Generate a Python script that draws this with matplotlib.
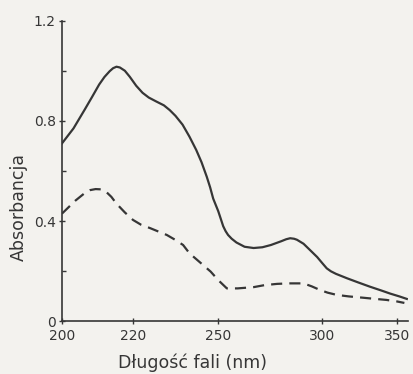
import matplotlib
matplotlib.use("Agg")
import matplotlib.pyplot as plt
import numpy as np

# Data
solid_wl = [200, 203, 206, 208, 210, 211.5, 213, 214, 215, 216, 217.5, 219, 221, 223,
            225, 227.5, 230, 232, 234, 236.5, 239, 241.5, 243.5, 245.5, 246.8, 248,
            250, 251, 252, 253, 254, 255.5, 257.5, 261, 265, 269, 273, 278, 280.5,
            282.5, 284.5, 286, 289.5, 293, 297, 300, 302.5, 305, 308, 315, 322, 330,
            338, 345, 352, 358]
solid_abs = [0.71, 0.77, 0.845, 0.895, 0.945, 0.975, 0.998, 1.01, 1.016, 1.013, 1.0,
             0.976, 0.94, 0.912, 0.893, 0.877, 0.862, 0.843, 0.82, 0.785, 0.737, 0.684,
             0.635, 0.577, 0.535, 0.49, 0.44, 0.41, 0.38, 0.36, 0.345, 0.33, 0.315,
             0.298, 0.293, 0.296, 0.305, 0.32, 0.328, 0.332, 0.33, 0.326, 0.31, 0.285,
             0.257, 0.232, 0.212, 0.2, 0.19, 0.172, 0.156, 0.139, 0.124, 0.111, 0.10,
             0.09]

dashed_wl = [200, 203.5, 206, 207.5, 209, 210.5, 212, 213.5, 215, 217.5, 220, 222.5,
             225.5, 231, 234, 236.7, 239, 243, 247, 250, 253.5, 258, 265, 270, 276,
             282, 289.5, 294, 298.5, 303, 308.5, 316, 325, 334, 342, 350, 356]
dashed_abs = [0.43, 0.482, 0.512, 0.524, 0.528, 0.527, 0.517, 0.497, 0.47, 0.435, 0.405,
              0.386, 0.372, 0.345, 0.325, 0.305, 0.272, 0.235, 0.199, 0.165, 0.132,
              0.132, 0.137, 0.145, 0.15, 0.152, 0.152, 0.14, 0.126, 0.115, 0.106, 0.10,
              0.095, 0.09, 0.086, 0.08, 0.074]

x_ticks = [200, 220, 250, 300, 350]
y_major = [0, 0.4, 0.8, 1.2]
y_major_labels = ["0", "0.4", "0.8", "1.2"]
y_minor = [0.2, 0.6, 1.0]

bg = "#f3f2ee"
ink = "#363636"

fig = plt.figure(figsize=(4.13, 3.74), dpi=100, facecolor=bg)
ax = fig.add_axes([0.150, 0.1404, 0.838, 0.8046], facecolor=bg)

def fwd(x):
    x = np.asarray(x, dtype=float)
    with np.errstate(divide="ignore", invalid="ignore"):
        return -1000.0 / x

def inv(y):
    y = np.asarray(y, dtype=float)
    with np.errstate(divide="ignore", invalid="ignore"):
        return -1000.0 / y

ax.set_xscale("function", functions=(fwd, inv))

ax.plot(solid_wl, solid_abs, color=ink, lw=1.6, solid_joinstyle="round")
ax.plot(dashed_wl, dashed_abs, color=ink, lw=1.6, linestyle=(0, (5, 3.2)))

ax.set_xlim(200, 359)
ax.set_ylim(0, 1.2)

for s in ["top", "right"]:
    ax.spines[s].set_visible(False)
for s in ["left", "bottom"]:
    ax.spines[s].set_color(ink)
    ax.spines[s].set_linewidth(1.2)

ax.set_xticks(x_ticks)
ax.set_xticklabels([str(t) for t in x_ticks])
ax.xaxis.set_minor_locator(matplotlib.ticker.NullLocator())
ax.set_yticks(y_major)
ax.set_yticklabels(y_major_labels)
ax.set_yticks(y_minor, minor=True)

ax.tick_params(axis="both", which="major", direction="inout", length=5, width=1,
               color=ink, labelcolor=ink, labelsize=10, pad=2)
ax.tick_params(axis="x", which="major", pad=3)
ax.tick_params(axis="y", which="minor", direction="in", length=3, width=1, color=ink)

ax.set_ylabel("Absorbancja", color=ink, fontsize=12.5)
ax.yaxis.set_label_coords(-0.098, 0.38)
ax.set_xlabel("Długość fali (nm)", color=ink, fontsize=12.5)
ax.xaxis.set_label_coords(0.378, -0.105)

fig.savefig("out.png", dpi=100, facecolor=bg)
